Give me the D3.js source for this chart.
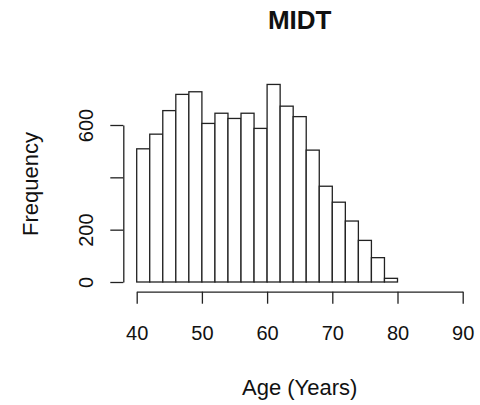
<!DOCTYPE html>
<html>
<head>
<meta charset="utf-8">
<script src="https://cdn.jsdelivr.net/npm/d3@7"></script>
<style>
  html, body { margin: 0; padding: 0; background: #fff; }
  svg { display: block; font-family: "Liberation Sans", Arial, sans-serif; }
</style>
</head>
<body>
<svg id="chart" width="480" height="405"></svg>
<script>
// Histogram of ages, 2-year bins from 40 to 80
const binStarts = [40, 42, 44, 46, 48, 50, 52, 54, 56, 58, 60, 62, 64, 66, 68, 70, 72, 74, 76, 78];
const binWidth = 2;
const counts = [509, 565, 655, 717, 727, 606, 645, 625, 645, 587, 755, 672, 632, 504, 366, 305, 233, 159, 93, 14];
const xTicks = [40, 50, 60, 70, 80, 90];
const yTicks = [0, 200, 400, 600];
const yTickLabels = ["0", "200", "", "600"];   // the 400 label is dropped like R does on overlap
const title = "MIDT";
const xTitle = "Age (Years)";
const yTitle = "Frequency";

const ink = "#222";
const svg = d3.select("#chart");

const x = d3.scaleLinear().domain([40, 90]).range([136.7, 462.7]);
const y = d3.scaleLinear().domain([0, 600]).range([282, 125]);

// bars
svg.append("g")
  .selectAll("rect")
  .data(binStarts.map((s, i) => ({ s, c: counts[i] })))
  .join("rect")
  .attr("x", d => x(d.s))
  .attr("width", d => x(d.s + binWidth) - x(d.s))
  .attr("y", d => y(d.c))
  .attr("height", d => y(0) - y(d.c))
  .attr("fill", "#fff")
  .attr("stroke", ink)
  .attr("stroke-width", 1.3);

// x axis, below the bars
const xAxis = svg.append("g")
  .attr("transform", "translate(0,291.7)")
  .call(d3.axisBottom(x).tickValues(xTicks).tickSize(12).tickSizeOuter(0).tickPadding(22).tickFormat(d3.format("d")));

// y axis, left of the plot
const yAxis = svg.append("g")
  .attr("transform", "translate(123.3,0)")
  .call(d3.axisLeft(y).tickValues(yTicks).tickSize(13).tickSizeOuter(0)
    .tickFormat((d, i) => yTickLabels[i]));

[xAxis, yAxis].forEach(g => {
  g.select(".domain").attr("stroke", ink).attr("stroke-width", 1.3);
  g.selectAll(".tick line").attr("stroke", ink).attr("stroke-width", 1.3);
  g.selectAll("text").attr("fill", "#111").attr("font-size", 20)
    .attr("font-family", "Liberation Sans, Arial, sans-serif");
});

// rotated y tick labels
yAxis.selectAll(".tick text")
  .attr("x", 0).attr("y", 0).attr("dy", 0)
  .attr("text-anchor", "middle")
  .attr("transform", "translate(-30,0) rotate(-90)");

// titles
svg.append("text")
  .attr("x", 299.7).attr("y", 29)
  .attr("text-anchor", "middle")
  .attr("font-size", 26).attr("font-weight", "bold").attr("fill", "#111")
  .text(title);

svg.append("text")
  .attr("x", 299.7).attr("y", 395)
  .attr("text-anchor", "middle")
  .attr("font-size", 22).attr("fill", "#111")
  .text(xTitle);

svg.append("text")
  .attr("transform", "translate(38,184) rotate(-90)")
  .attr("text-anchor", "middle")
  .attr("font-size", 22).attr("fill", "#111")
  .text(yTitle);
</script>
</body>
</html>
